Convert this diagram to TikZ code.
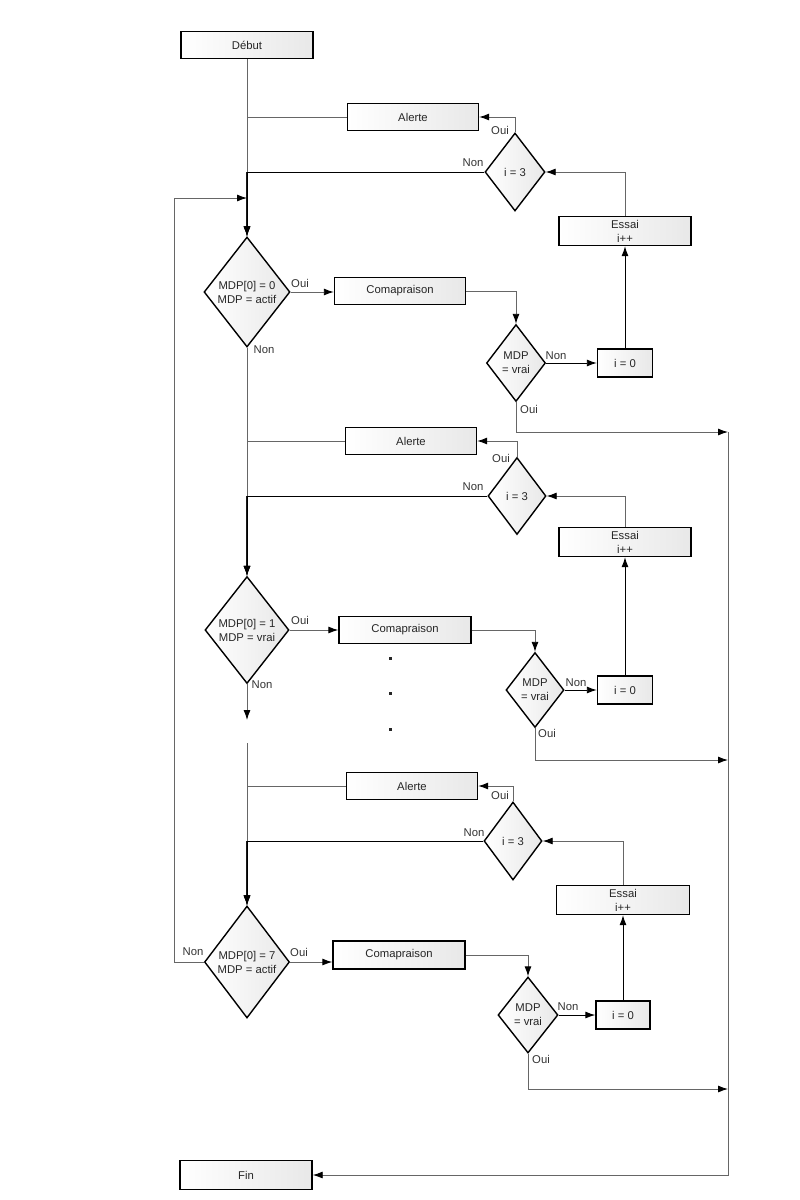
\documentclass[tikz,border=0pt]{standalone}
\usepackage{fontspec}
\setmainfont{Liberation Sans}
\usepackage{tikz}
\usetikzlibrary{arrows.meta,shapes.geometric,positioning}
\tikzset{
	>={Latex[length=10pt,width=7pt,color=black]},
	block/.style = {
			rectangle,
			draw            = black,
			line width      = 1.4pt,
			left color      = white,
			right color     = black!9,
			minimum width   = 132pt,
			minimum height  = 27pt,
			inner sep       = 0pt,
			align           = center,
			text            = black!85,
			font            = \fontsize{11.3}{14}\selectfont
		},
	decision/.style = { diamond,
			draw            = black,
			line width      = 1.4pt,
			left color      = white,
			right color     = black!9,
			inner sep       = 0pt,
			align           = center,
			text            = black!85,
			font            = \fontsize{11.3}{14}\selectfont
		},
	lbl/.style = {inner sep=0pt, text=black!80, font=\fontsize{11.3}{12}\selectfont},
	flow/.style = {draw=black!60, line width=0.9pt},
	back/.style = {draw=black, line width=0.9pt},
	trunk/.style = {draw=black!90, line width=1.6pt}
}
\begin{document}
\begin{tikzpicture}[x=1pt,y=-1pt]
    \useasboundingbox (0,0) rectangle (800,1200);

    % start
    \node[block] at (247,45) (debut) {Début};

    % first branch
    \node[block, minimum width=131pt] at (413,117) (alerte1) {Alerte};
    \node[decision, minimum width=60pt, minimum height=78pt] at (515,172) (essai1test) {i = 3};
    \node[block, minimum height=29pt] at (625,231) (essai1) {Essai\\i++};
    \node[decision, minimum width=86pt, minimum height=110pt] at (247,292) (mdp0) {MDP[0] = 0\\MDP = actif};
    \node[block, minimum width=131pt] at (400,291) (comp1) {Comapraison};
    \node[decision, minimum width=59pt, minimum height=77pt] at (516,363) (vrai1) {MDP\\= vrai};
    \node[block, minimum width=55pt, minimum height=28pt] at (625,363) (raz1) {i = 0};

    % second branch
    \node[block, minimum width=131pt] at (411,441) (alerte2) {Alerte};
    \node[decision, minimum width=58pt, minimum height=77pt] at (517,496) (essai2test) {i = 3};
    \node[block, minimum height=29pt] at (625,542) (essai2) {Essai\\i++};
    \node[decision, minimum width=84pt, minimum height=107pt] at (247,630) (mdp1) {MDP[0] = 1\\MDP = vrai};
    \node[block, minimum width=132pt] at (405,630) (comp2) {Comapraison};
    \node[decision, minimum width=58pt, minimum height=75pt] at (535,690) (vrai2) {MDP\\= vrai};
    \node[block, minimum width=55pt, minimum height=28pt] at (625,690) (raz2) {i = 0};

    % last branch
    \node[block, minimum width=131pt] at (412,786) (alerte3) {Alerte};
    \node[decision, minimum width=58pt, minimum height=78pt] at (513,841) (essai3test) {i = 3};
    \node[block, minimum width=133pt, minimum height=29pt] at (623,900) (essai3) {Essai\\i++};
    \node[decision, minimum width=85pt, minimum height=112pt] at (247,962) (mdp7) {MDP[0] = 7\\MDP = actif};
    \node[block, minimum width=132pt, minimum height=28pt] at (399,955) (comp3) {Comapraison};
    \node[decision, minimum width=60pt, minimum height=76pt] at (528,1015) (vrai3) {MDP\\= vrai};
    \node[block, minimum width=54pt, minimum height=28pt] at (623,1015) (raz3) {i = 0};

    % end
    \node[block, minimum height=29pt] at (246,1175) (fin) {Fin};

    \foreach \y in {658,693,729}
      \fill[black!85] (388.5,\y-1.5) rectangle ++(3,3);

    \coordinate (loopback) at (174,198);
    \coordinate (join) at (247,198);
    \coordinate (gapa) at (247,720);
    \coordinate (gapb) at (247,743);
    \coordinate (right1) at (728,432);
    \coordinate (right2) at (728,760);
    \coordinate (right3) at (728,1089);

    % darker trunk below the joins
    \draw[trunk] (essai1test.west -| mdp0.north) -- ([yshift=6pt]mdp0.north);
    \draw[trunk] (essai2test.west -| mdp1.north) -- ([yshift=6pt]mdp1.north);
    \draw[trunk] (essai3test.west -| mdp7.north) -- ([yshift=6pt]mdp7.north);

    \draw[flow,->] (debut.south) -- (mdp0.north);
    \draw[flow,->] (alerte1.west) -| (mdp0.north);
    \draw[back,->] (essai1test.west) -| (mdp0.north);
    \draw[flow,->] (essai1test.north) |- (alerte1.east);
    \draw[flow,->] (essai1.north) |- (essai1test.east);
    \draw[flow,->] (mdp7.west) -| (loopback) -- (join);
    \draw[flow,->] (mdp0.east) -- (mdp0.east -| comp1.west);
    \draw[flow,->] (comp1.east) -| (vrai1.north);
    \draw[back,->] (vrai1.east) -- (raz1.west);
    \draw[back,->] (raz1.north) -- (essai1.south);
    \draw[flow,->] (vrai1.south) |- (right1);

    \draw[flow,->] (mdp0.south) -- (mdp1.north);
    \draw[flow,->] (alerte2.west) -| (mdp1.north);
    \draw[back,->] (essai2test.west) -| (mdp1.north);
    \draw[flow,->] (essai2test.north) |- (alerte2.east);
    \draw[flow,->] (essai2.north) |- (essai2test.east);
    \draw[flow,->] (mdp1.east) -- (comp2.west);
    \draw[flow,->] (comp2.east) -| (vrai2.north);
    \draw[back,->] (vrai2.east) -- (raz2.west);
    \draw[back,->] (raz2.north) -- (essai2.south);
    \draw[flow,->] (vrai2.south) |- (right2);
    \draw[flow,->] (mdp1.south) -- (gapa);

    \draw[flow,->] (gapb) -- (mdp7.north);
    \draw[flow,->] (alerte3.west) -| (mdp7.north);
    \draw[back,->] (essai3test.west) -| (mdp7.north);
    \draw[flow,->] (essai3test.north) |- (alerte3.east);
    \draw[flow,->] (essai3.north) |- (essai3test.east);
    \draw[flow,->] (mdp7.east) -- (mdp7.east -| comp3.west);
    \draw[flow,->] (comp3.east) -| (vrai3.north);
    \draw[back,->] (vrai3.east) -- (raz3.west);
    \draw[back,->] (raz3.north) -- (essai3.south);
    \draw[flow,->] (vrai3.south) |- (right3);

    \draw[flow,->] (right1) |- (fin.east);

    % Oui / Non
    \node[lbl] at (500,130) (oui1) {Oui};
    \node[lbl] at (473,163) (non1) {Non};
    \node[lbl] at (300,283) (oui2) {Oui};
    \node[lbl] at (264,350) (non2) {Non};
    \node[lbl] at (556,356) (non3) {Non};
    \node[lbl] at (529,409) (oui3) {Oui};
    \node[lbl] at (501,458) (oui4) {Oui};
    \node[lbl] at (473,487) (non4) {Non};
    \node[lbl] at (300,620) (oui5) {Oui};
    \node[lbl] at (262,685) (non5) {Non};
    \node[lbl] at (576,683) (non6) {Non};
    \node[lbl] at (547,733) (oui6) {Oui};
    \node[lbl] at (500,795) (oui7) {Oui};
    \node[lbl] at (474,833) (non7) {Non};
    \node[lbl] at (193,952) (non8) {Non};
    \node[lbl] at (299,952) (oui8) {Oui};
    \node[lbl] at (568,1007) (non9) {Non};
    \node[lbl] at (541,1059) (oui9) {Oui};
  \end{tikzpicture}
\end{document}
